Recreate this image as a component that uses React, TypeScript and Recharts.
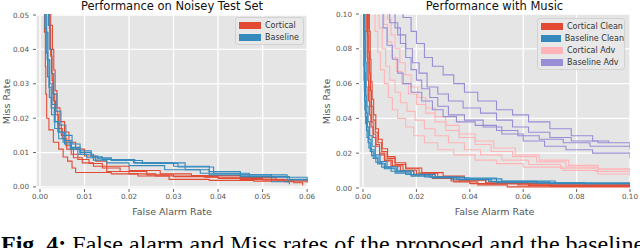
import { LineChart, Line, XAxis, YAxis, CartesianGrid } from "recharts";

type Curve = [number, number][];

// left panel: noisy test set (false alarm, miss)
const noisyXTicks = [0, 0.01, 0.02, 0.03, 0.04, 0.05, 0.06];
const noisyYTicks = [0, 0.01, 0.02, 0.03, 0.04, 0.05];

const noisyCortical: Curve[] = [
  [[0.0008, 0.055], [0.001, 0.045], [0.0012, 0.035], [0.0013, 0.027], [0.0015, 0.02], [0.002, 0.0166], [0.003, 0.013], [0.0042, 0.011], [0.0052, 0.0087], [0.0062, 0.0075], [0.0072, 0.0055], [0.008, 0.0042], [0.016, 0.0038], [0.022, 0.0032], [0.029, 0.0022], [0.038, 0.0019], [0.048, 0.0017], [0.057, 0.0012], [0.059, 0.0005]],
  [[0.0018, 0.055], [0.0021, 0.046], [0.0024, 0.038], [0.0027, 0.031], [0.003, 0.025], [0.0035, 0.021], [0.0042, 0.017], [0.005, 0.014], [0.006, 0.011], [0.0075, 0.0085], [0.0095, 0.007], [0.012, 0.006], [0.015, 0.0045], [0.02, 0.0038], [0.026, 0.0032], [0.037, 0.0028], [0.045, 0.0022], [0.055, 0.0015], [0.06, 0.0012]],
  [[0.0015, 0.055], [0.0019, 0.047], [0.0023, 0.04], [0.0026, 0.033], [0.0029, 0.027], [0.0033, 0.022], [0.004, 0.018], [0.0048, 0.015], [0.0058, 0.012], [0.007, 0.0095], [0.0085, 0.008], [0.011, 0.0068], [0.014, 0.0055], [0.018, 0.0045], [0.024, 0.0035], [0.03, 0.003], [0.04, 0.0025], [0.05, 0.002], [0.06, 0.0018]],
  [[0.002, 0.055], [0.0024, 0.047], [0.0028, 0.04], [0.0031, 0.034], [0.0034, 0.028], [0.0038, 0.023], [0.0045, 0.019], [0.0055, 0.016], [0.0065, 0.013], [0.008, 0.011], [0.01, 0.009], [0.0125, 0.0075], [0.015, 0.006], [0.02, 0.0048], [0.027, 0.0038], [0.034, 0.0033], [0.045, 0.0027], [0.053, 0.002], [0.06, 0.0016]],
];

const noisyBaseline: Curve[] = [
  [[0.0008, 0.055], [0.0011, 0.046], [0.0014, 0.039], [0.0017, 0.032], [0.0021, 0.026], [0.0026, 0.021], [0.0033, 0.017], [0.0042, 0.014], [0.0055, 0.0125], [0.007, 0.011], [0.009, 0.0095], [0.012, 0.0085], [0.016, 0.0078], [0.021, 0.007], [0.03, 0.006], [0.038, 0.0045], [0.045, 0.0035], [0.052, 0.0028], [0.06, 0.0022]],
  [[0.0012, 0.055], [0.0015, 0.045], [0.0018, 0.037], [0.0022, 0.03], [0.0027, 0.024], [0.0034, 0.019], [0.0043, 0.016], [0.0055, 0.0135], [0.007, 0.0115], [0.009, 0.01], [0.0115, 0.0088], [0.014, 0.008], [0.0213, 0.007], [0.0326, 0.005], [0.038, 0.0035], [0.0555, 0.002], [0.06, 0.0018]],
  [[0.0016, 0.055], [0.0019, 0.047], [0.0022, 0.04], [0.0026, 0.033], [0.0031, 0.027], [0.0038, 0.022], [0.0047, 0.018], [0.0058, 0.015], [0.0072, 0.0125], [0.009, 0.0105], [0.0115, 0.009], [0.013, 0.0082], [0.016, 0.0077], [0.023, 0.0068], [0.031, 0.0058], [0.039, 0.004], [0.047, 0.003], [0.056, 0.0022], [0.06, 0.0021]],
  [[0.001, 0.055], [0.0013, 0.045], [0.0016, 0.037], [0.002, 0.029], [0.0025, 0.023], [0.0032, 0.019], [0.004, 0.016], [0.0052, 0.013], [0.0068, 0.011], [0.0085, 0.0095], [0.0105, 0.0085], [0.012, 0.0078], [0.015, 0.007], [0.02, 0.0062], [0.028, 0.005], [0.036, 0.004], [0.045, 0.003], [0.052, 0.0015], [0.056, 0.0008]],
];

// right panel: with music
const musicXTicks = [0, 0.02, 0.04, 0.06, 0.08, 0.1];
const musicYTicks = [0, 0.02, 0.04, 0.06, 0.08, 0.1];

const musicCorticalClean: Curve[] = [
  [[0.0012, 0.11], [0.0014, 0.09], [0.0016, 0.075], [0.0018, 0.062], [0.0021, 0.05], [0.0025, 0.042], [0.003, 0.035], [0.0038, 0.029], [0.0048, 0.024], [0.0062, 0.019], [0.008, 0.0155], [0.0105, 0.0125], [0.014, 0.0098], [0.019, 0.0075], [0.026, 0.0055], [0.034, 0.0035], [0.043, 0.0018], [0.054, 0.0006], [0.1, 0.0005]],
  [[0.0018, 0.11], [0.002, 0.092], [0.0022, 0.078], [0.0025, 0.066], [0.0028, 0.056], [0.0032, 0.047], [0.0038, 0.039], [0.0046, 0.032], [0.0056, 0.026], [0.007, 0.021], [0.009, 0.017], [0.012, 0.0135], [0.016, 0.011], [0.021, 0.0085], [0.028, 0.0065], [0.036, 0.0045], [0.046, 0.003], [0.062, 0.0015], [0.1, 0.0012]],
  [[0.0015, 0.11], [0.0017, 0.088], [0.0019, 0.072], [0.0022, 0.058], [0.0026, 0.047], [0.0031, 0.038], [0.0038, 0.031], [0.0048, 0.025], [0.0062, 0.02], [0.0082, 0.016], [0.011, 0.0128], [0.015, 0.0102], [0.02, 0.008], [0.027, 0.006], [0.033, 0.004], [0.04, 0.0025], [0.058, 0.0018], [0.1, 0.0012]],
  [[0.0022, 0.11], [0.0024, 0.09], [0.0027, 0.074], [0.003, 0.061], [0.0034, 0.051], [0.004, 0.042], [0.0048, 0.034], [0.0058, 0.028], [0.0072, 0.0225], [0.0092, 0.018], [0.012, 0.0145], [0.016, 0.0115], [0.022, 0.0088], [0.03, 0.0068], [0.038, 0.0048], [0.046, 0.0025], [0.07, 0.001], [0.1, 0.0006]],
];

const musicBaselineClean: Curve[] = [
  [[0.0002, 0.11], [0.0003, 0.08], [0.0004, 0.062], [0.0006, 0.05], [0.0009, 0.041], [0.0013, 0.033], [0.0019, 0.026], [0.0027, 0.021], [0.0038, 0.017], [0.0055, 0.0138], [0.008, 0.011], [0.012, 0.0085], [0.018, 0.0068], [0.026, 0.0058], [0.04, 0.0057], [0.05, 0.003], [0.083, 0.0025], [0.1, 0.002]],
  [[0.0004, 0.11], [0.0005, 0.085], [0.0007, 0.066], [0.0009, 0.053], [0.0012, 0.043], [0.0016, 0.035], [0.0022, 0.028], [0.003, 0.022], [0.0042, 0.0178], [0.006, 0.0142], [0.0085, 0.0115], [0.0125, 0.0092], [0.018, 0.0075], [0.025, 0.0062], [0.035, 0.0048], [0.048, 0.0035], [0.07, 0.0025], [0.1, 0.0018]],
  [[0.0006, 0.11], [0.0008, 0.09], [0.001, 0.072], [0.0012, 0.058], [0.0015, 0.047], [0.0019, 0.038], [0.0025, 0.03], [0.0034, 0.024], [0.0046, 0.019], [0.0064, 0.0152], [0.009, 0.0122], [0.013, 0.0098], [0.019, 0.0078], [0.027, 0.0062], [0.038, 0.0052], [0.052, 0.004], [0.072, 0.0028], [0.1, 0.0022]],
  [[0.0001, 0.11], [0.0002, 0.09], [0.0003, 0.07], [0.0005, 0.056], [0.0007, 0.045], [0.001, 0.037], [0.0015, 0.029], [0.0022, 0.023], [0.0032, 0.0185], [0.0048, 0.0148], [0.007, 0.012], [0.0105, 0.0096], [0.016, 0.0077], [0.023, 0.0063], [0.033, 0.005], [0.047, 0.0038], [0.065, 0.0028], [0.1, 0.0024]],
];

const musicCorticalAdv: Curve[] = [
  [[0.0035, 0.105], [0.0045, 0.09], [0.0055, 0.078], [0.0065, 0.068], [0.008, 0.06], [0.0095, 0.052], [0.011, 0.045], [0.013, 0.04], [0.016, 0.035], [0.019, 0.03], [0.023, 0.026], [0.028, 0.022], [0.034, 0.019], [0.042, 0.016], [0.05, 0.014], [0.06, 0.012], [0.075, 0.01], [0.088, 0.008], [0.1, 0.007]],
  [[0.005, 0.105], [0.006, 0.092], [0.0072, 0.08], [0.0085, 0.07], [0.01, 0.062], [0.012, 0.055], [0.014, 0.049], [0.0165, 0.044], [0.0195, 0.039], [0.023, 0.034], [0.027, 0.03], [0.032, 0.026], [0.038, 0.022], [0.044, 0.019], [0.052, 0.016], [0.062, 0.0135], [0.074, 0.011], [0.087, 0.0095], [0.1, 0.0085]],
  [[0.0065, 0.105], [0.0078, 0.094], [0.0092, 0.084], [0.0108, 0.075], [0.0125, 0.067], [0.0145, 0.06], [0.017, 0.054], [0.02, 0.048], [0.0235, 0.043], [0.027, 0.038], [0.031, 0.033], [0.036, 0.029], [0.042, 0.025], [0.048, 0.021], [0.056, 0.018], [0.065, 0.015], [0.076, 0.012], [0.088, 0.0105], [0.1, 0.01]],
  [[0.008, 0.105], [0.0092, 0.097], [0.0105, 0.088], [0.012, 0.08], [0.0138, 0.072], [0.0158, 0.065], [0.018, 0.058], [0.0205, 0.052], [0.0235, 0.046], [0.027, 0.041], [0.031, 0.036], [0.036, 0.031], [0.042, 0.027], [0.049, 0.023], [0.057, 0.019], [0.066, 0.016], [0.077, 0.013], [0.088, 0.011], [0.1, 0.0095]],
];

const musicBaselineAdv: Curve[] = [
  [[0.008, 0.105], [0.01, 0.095], [0.013, 0.088], [0.016, 0.08], [0.0185, 0.072], [0.021, 0.066], [0.024, 0.058], [0.028, 0.054], [0.032, 0.05], [0.0375, 0.046], [0.044, 0.043], [0.05, 0.039], [0.056, 0.035], [0.062, 0.032], [0.07, 0.029], [0.078, 0.027], [0.088, 0.026], [0.1, 0.024]],
  [[0.006, 0.105], [0.0075, 0.092], [0.009, 0.082], [0.011, 0.074], [0.013, 0.066], [0.015, 0.06], [0.018, 0.055], [0.022, 0.05], [0.026, 0.045], [0.03, 0.041], [0.035, 0.038], [0.042, 0.036], [0.05, 0.033], [0.058, 0.03], [0.066, 0.028], [0.075, 0.026], [0.085, 0.024], [0.1, 0.022]],
  [[0.01, 0.105], [0.012, 0.092], [0.014, 0.083], [0.016, 0.075], [0.018, 0.068], [0.02, 0.062], [0.022, 0.057], [0.025, 0.052], [0.028, 0.047], [0.032, 0.042], [0.038, 0.039], [0.045, 0.035], [0.052, 0.031], [0.06, 0.027], [0.068, 0.024], [0.076, 0.022], [0.086, 0.02], [0.1, 0.017]],
  [[0.012, 0.105], [0.015, 0.098], [0.018, 0.09], [0.02, 0.083], [0.023, 0.075], [0.026, 0.07], [0.03, 0.065], [0.034, 0.06], [0.038, 0.055], [0.043, 0.05], [0.05, 0.045], [0.056, 0.042], [0.062, 0.038], [0.07, 0.034], [0.078, 0.03], [0.086, 0.027], [0.092, 0.026]],
];

const RED = "#E24A33";
const BLUE = "#348ABD";
const PINK = "#FFB5B8";
const PURPLE = "#988ED5";

type Series = { name: string; color: string; curves: Curve[] };

const tickStyle = { fontSize: 7.2, fill: "#555" };

function Panel(props: {
  left: number;
  title: string;
  series: Series[];
  xDomain: [number, number];
  yDomain: [number, number];
  xTicks: number[];
  yTicks: number[];
  yAxisWidth: number;
  marginRight: number;
  legend: { left: number; top: number; width: number };
}) {
  const { left, title, series, xDomain, yDomain, xTicks, yTicks, yAxisWidth, marginRight, legend } = props;
  const cx = (yAxisWidth + 320 - marginRight) / 2;
  return (
    <div style={{ position: "absolute", left, top: 0, width: 320, height: 230 }}>
      <LineChart width={320} height={230} margin={{ top: 14, right: marginRight, bottom: 11, left: 0 }}>
        <CartesianGrid fill="#E5E5E5" stroke="#ffffff" strokeWidth={1.3} />
        <XAxis
          type="number"
          dataKey="fa"
          domain={xDomain}
          ticks={xTicks}
          interval={0}
          allowDataOverflow
          height={30}
          axisLine={false}
          tickSize={3}
          tickMargin={2}
          tickLine={{ stroke: "#666" }}
          tick={tickStyle}
          tickFormatter={(v: number) => v.toFixed(2)}
        />
        <YAxis
          type="number"
          dataKey="miss"
          domain={yDomain}
          ticks={yTicks}
          interval={0}
          allowDataOverflow
          width={yAxisWidth}
          axisLine={false}
          tickSize={3}
          tickMargin={4}
          tickLine={{ stroke: "#666" }}
          tick={tickStyle}
          tickFormatter={(v: number) => v.toFixed(2)}
        />
        {series.flatMap((s, si) =>
          s.curves.map((c, ci) => (
            <Line
              key={`${si}-${ci}`}
              data={c.map(([fa, miss]) => ({ fa, miss }))}
              dataKey="miss"
              type="stepAfter"
              stroke={s.color}
              strokeWidth={1.1}
              dot={false}
              activeDot={false}
              isAnimationActive={false}
            />
          ))
        )}
      </LineChart>
      <div style={{ position: "absolute", left: cx - 120, top: 0, width: 240, textAlign: "center", fontSize: 11.5, lineHeight: "13px", color: "#111" }}>
        {title}
      </div>
      <div style={{ position: "absolute", left: cx - 80, top: 206, width: 160, textAlign: "center", fontSize: 9.5, lineHeight: "11px", color: "#555" }}>
        False Alarm Rate
      </div>
      <div
        style={{
          position: "absolute",
          left: 6 - 60,
          top: 101.5 - 5.5,
          width: 120,
          height: 11,
          textAlign: "center",
          fontSize: 9.5,
          lineHeight: "11px",
          color: "#555",
          transform: "rotate(-90deg)",
        }}
      >
        Miss Rate
      </div>
      <div
        style={{
          position: "absolute",
          left: legend.left,
          top: legend.top,
          width: legend.width,
          padding: "1px 0 1px 0",
          background: "#E8E8E8",
          border: "1px solid #D2D2D2",
          borderRadius: 3,
          boxSizing: "border-box",
        }}
      >
        {series.map((s) => (
          <div key={s.name} style={{ display: "flex", alignItems: "center", height: 12, paddingLeft: 3 }}>
            <div style={{ width: 22, height: 7, background: s.color, marginRight: 4 }} />
            <span style={{ fontSize: 8, color: "#333", whiteSpace: "nowrap" }}>{s.name}</span>
          </div>
        ))}
      </div>
    </div>
  );
}

export default function App() {
  return (
    <div style={{ position: "absolute", left: 0, top: 0, width: 640, height: 248, background: "#fff", overflow: "hidden", fontFamily: "'DejaVu Sans', sans-serif" }}>
      <Panel
        left={0}
        title="Performance on Noisey Test Set"
        series={[
          { name: "Cortical", color: RED, curves: noisyCortical },
          { name: "Baseline", color: BLUE, curves: noisyBaseline },
        ]}
        xDomain={[-0.0009, 0.0602]}
        yDomain={[-0.0006, 0.0503]}
        xTicks={noisyXTicks}
        yTicks={noisyYTicks}
        yAxisWidth={36}
        marginRight={12}
        legend={{ left: 235, top: 17, width: 69 }}
      />
      <Panel
        left={320}
        title="Performance with Music"
        series={[
          { name: "Cortical Clean", color: RED, curves: musicCorticalClean },
          { name: "Baseline Clean", color: BLUE, curves: musicBaselineClean },
          { name: "Cortical Adv", color: PINK, curves: musicCorticalAdv },
          { name: "Baseline Adv", color: PURPLE, curves: musicBaselineAdv },
        ]}
        xDomain={[-0.0015, 0.1]}
        yDomain={[-0.0006, 0.1]}
        xTicks={musicXTicks}
        yTicks={musicYTicks}
        yAxisWidth={39}
        marginRight={10}
        legend={{ left: 217, top: 18, width: 88 }}
      />
      <div
        style={{
          position: "absolute",
          left: 1,
          top: 232,
          whiteSpace: "nowrap",
          fontFamily: "'Liberation Serif', serif",
          fontSize: 24,
          lineHeight: "24px",
          color: "#000",
        }}
      >
        <b>Fig. 4:</b> False alarm and Miss rates of the proposed and the baseline models.
      </div>
    </div>
  );
}
